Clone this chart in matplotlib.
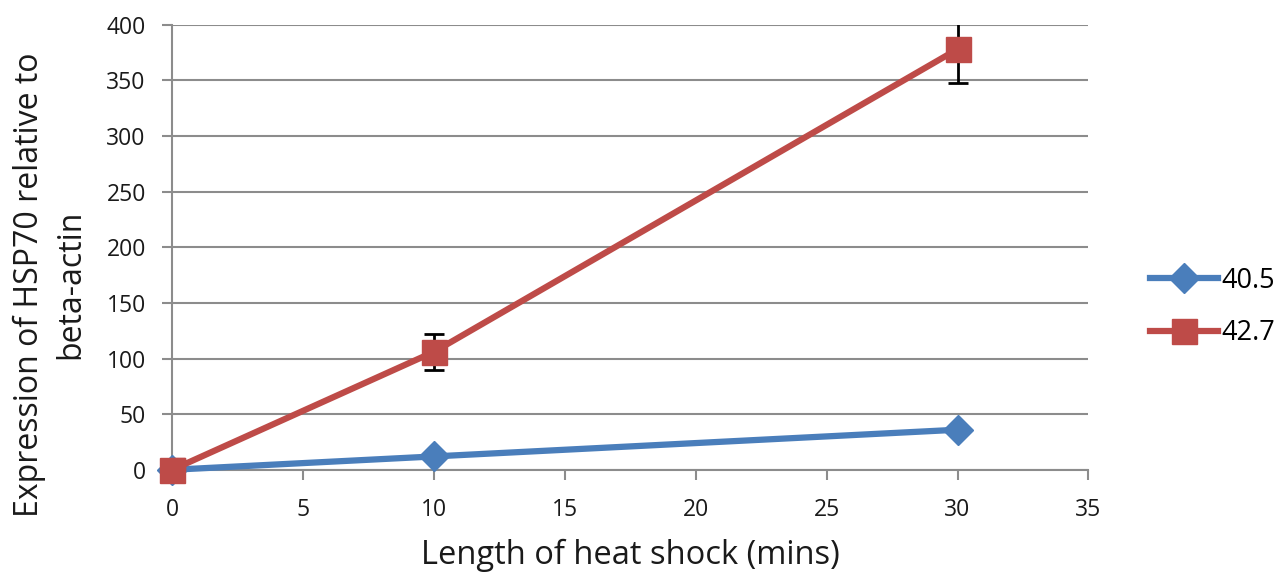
import matplotlib
matplotlib.use("Agg")
import matplotlib.pyplot as plt
from matplotlib.lines import Line2D

x_mins = [0, 10, 30]
s405 = [0, 12, 36]
s427 = [0, 106, 378]
err427 = [0, 16, 30]
labels = ["40.5", "42.7"]

plt.rcParams['font.family'] = ['Open Sans', 'DejaVu Sans']

fig = plt.figure(figsize=(12.85, 5.75), dpi=100)
ax = fig.add_axes([0.134, 0.183, 0.713, 0.774])

blue = '#4a7ebb'
red = '#be4b48'
ax.plot(x_mins, s405, color=blue, lw=4.5, marker='D', ms=15, label=labels[0], zorder=3, clip_on=False)
ax.errorbar(x_mins, s427, yerr=err427, color=red, lw=4.5, marker='s', ms=18,
            ecolor='black', elinewidth=2, capsize=7, capthick=2, label=labels[1], zorder=4)
ax.plot(x_mins[:1], s427[:1], color=red, marker='s', ms=18, ls='none', clip_on=False, zorder=5)

ax.set_xlim(0, 35)
ax.set_ylim(0, 400)
ax.set_xticks(range(0, 36, 5))
ax.set_yticks(range(0, 401, 50))
ax.yaxis.grid(True, color='#8c8c8c', lw=1.5)
ax.set_axisbelow(True)
for s in ['top', 'right']:
    ax.spines[s].set_visible(False)
for s in ['left', 'bottom']:
    ax.spines[s].set_color('#8c8c8c')
    ax.spines[s].set_linewidth(1.5)
ax.tick_params(axis='both', colors='#8c8c8c', width=1.5, length=7, labelsize=16.5, labelcolor='#1a1a1a')
ax.tick_params(axis='y', pad=12)
ax.tick_params(axis='x', pad=13)
ax.set_xlabel('Length of heat shock (mins)', fontsize=23.5, color='#1a1a1a')
ax.set_ylabel('Expression of HSP70 relative to\nbeta-actin', fontsize=23, color='#1a1a1a', linespacing=1.3)
ax.xaxis.set_label_coords(0.5, -0.155)
ax.yaxis.set_label_coords(-0.093, 0.416)

handles = [Line2D([0], [0], color=blue, lw=4.5, marker='D', ms=15),
           Line2D([0], [0], color=red, lw=4.5, marker='s', ms=18)]
fig.legend(handles, labels, loc='center left', bbox_to_anchor=(0.895, 0.466), frameon=False,
           fontsize=19.5, handlelength=2.5, labelspacing=0.9, handletextpad=0.15,
           borderpad=0, borderaxespad=0)

fig.savefig('out.png', dpi=100)
